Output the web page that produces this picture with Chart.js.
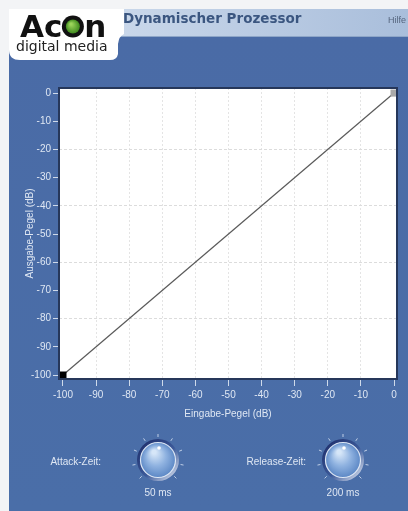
<!DOCTYPE html>
<html>
<head>
<meta charset="utf-8">
<script src="https://cdn.jsdelivr.net/npm/chart.js@4"></script>
<style>
  html, body { margin: 0; padding: 0; background: #f3f4f6; }
  #wrap { width: 408px; height: 511px; position: relative; }
</style>
</head>
<body>
<div id="wrap"><canvas id="c" width="408" height="511"></canvas></div>
<script>
// transfer curve (input dB -> output dB)
const inputLevels = [-100, 0];
const outputLevels = [-100, 0];
const xTicks = [-100, -90, -80, -70, -60, -50, -40, -30, -20, -10, 0];
const yTicks = [0, -10, -20, -30, -40, -50, -60, -70, -80, -90, -100];
const pointColors = ['#000000', '#a9a9a9'];

const labelColor = '#dfe7f3';
const font = 'Liberation Sans, Arial, sans-serif';

const knob = (ctx, cx, cy) => {
  // scale dots
  ctx.strokeStyle = 'rgba(220,230,245,0.8)';
  ctx.lineWidth = 1;
  for (let i = 0; i <= 8; i++) {
    const a = Math.PI * 0.75 + i * (Math.PI * 1.5 / 8);
    ctx.beginPath();
    ctx.moveTo(cx + Math.cos(a) * 23, cy + Math.sin(a) * 23);
    ctx.lineTo(cx + Math.cos(a) * 26, cy + Math.sin(a) * 26);
    ctx.stroke();
  }
  // dark ring
  ctx.beginPath();
  ctx.arc(cx, cy, 21, 0, Math.PI * 2);
  let g = ctx.createLinearGradient(cx - 20, cy - 20, cx + 20, cy + 20);
  g.addColorStop(0, '#1c2a66');
  g.addColorStop(0.55, '#3c5a9a');
  g.addColorStop(1, '#e8eef8');
  ctx.fillStyle = g;
  ctx.fill();
  // ball
  ctx.beginPath();
  ctx.arc(cx, cy, 17.5, 0, Math.PI * 2);
  g = ctx.createRadialGradient(cx - 4, cy - 8, 2, cx, cy, 18);
  g.addColorStop(0, '#d6e6f8');
  g.addColorStop(0.5, '#8fb2e0');
  g.addColorStop(1, '#5a86c4');
  ctx.fillStyle = g;
  ctx.fill();
  ctx.strokeStyle = '#dce6f4';
  ctx.lineWidth = 1.2;
  ctx.stroke();
  // indicator
  ctx.beginPath();
  ctx.arc(cx + 1, cy - 12, 1.8, 0, Math.PI * 2);
  ctx.fillStyle = '#ffffff';
  ctx.fill();
};

const panel = {
  id: 'panel',
  beforeDraw(chart) {
    const { ctx } = chart;
    ctx.save();
    ctx.fillStyle = '#f3f4f6';
    ctx.fillRect(0, 0, 408, 511);
    // blue panel
    let g = ctx.createLinearGradient(0, 37, 0, 511);
    g.addColorStop(0, '#4a6ba6');
    g.addColorStop(1, '#4a6ea8');
    ctx.fillStyle = g;
    ctx.fillRect(9, 37, 399, 474);
    // header band
    g = ctx.createLinearGradient(120, 0, 408, 0);
    g.addColorStop(0, '#c9d7ea');
    g.addColorStop(1, '#a9bedb');
    ctx.fillStyle = g;
    ctx.fillRect(9, 9, 399, 28);
    ctx.fillStyle = '#8ea6c8';
    ctx.fillRect(9, 36, 399, 1);
    // logo tab
    ctx.fillStyle = '#ffffff';
    ctx.beginPath();
    ctx.moveTo(9, 9);
    ctx.lineTo(124, 9);
    ctx.lineTo(124, 34);
    ctx.quadraticCurveTo(119, 36, 118, 44);
    ctx.lineTo(118, 54);
    ctx.quadraticCurveTo(117, 60, 110, 60);
    ctx.lineTo(20, 60);
    ctx.quadraticCurveTo(9, 60, 9, 50);
    ctx.closePath();
    ctx.fill();
    ctx.fillStyle = '#111111';
    ctx.font = 'bold 31px DejaVu Sans, ' + font;
    ctx.textBaseline = 'alphabetic';
    ctx.textAlign = 'left';
    ctx.fillText('Ac', 20, 37);
    const wAc = ctx.measureText('Ac').width;
    // green "o"
    const ox = 20 + wAc + 10.5;
    ctx.beginPath();
    ctx.arc(ox, 26.5, 11, 0, Math.PI * 2);
    ctx.fillStyle = '#111111';
    ctx.fill();
    ctx.beginPath();
    ctx.arc(ox, 26.5, 7, 0, Math.PI * 2);
    g = ctx.createRadialGradient(ox - 2, 24, 1, ox, 26.5, 7);
    g.addColorStop(0, '#9bd45a');
    g.addColorStop(1, '#3f8a1e');
    ctx.fillStyle = g;
    ctx.fill();
    ctx.fillStyle = '#111111';
    ctx.fillText('n', ox + 11.5, 37);
    ctx.font = '14px DejaVu Sans, ' + font;
    ctx.fillStyle = '#222222';
    ctx.fillText('digital media', 16, 51);
    // titles
    ctx.font = 'bold 13.5px DejaVu Sans, ' + font;
    ctx.fillStyle = '#3b5680';
    ctx.fillText('Dynamischer Prozessor', 123, 23);
    ctx.font = '9px ' + font;
    ctx.fillStyle = '#55657e';
    ctx.fillText('Hilfe', 388, 23);
    // plot background
    const a = chart.chartArea;
    ctx.fillStyle = '#ffffff';
    ctx.fillRect(a.left, a.top, a.right - a.left, a.bottom - a.top);
    ctx.restore();
  },
  afterDraw(chart) {
    const { ctx } = chart;
    const a = chart.chartArea;
    ctx.save();
    ctx.strokeStyle = '#26375a';
    ctx.lineWidth = 2;
    ctx.strokeRect(a.left, a.top, a.right - a.left, a.bottom - a.top);
    // knobs and labels
    ctx.fillStyle = labelColor;
    ctx.font = '10px ' + font;
    ctx.textBaseline = 'middle';
    ctx.textAlign = 'right';
    ctx.fillText('Attack-Zeit:', 101, 462);
    ctx.fillText('Release-Zeit:', 306, 462);
    ctx.textAlign = 'center';
    ctx.fillText('50 ms', 158, 493);
    ctx.fillText('200 ms', 343, 493);
    knob(ctx, 158, 460);
    knob(ctx, 343, 460);
    ctx.restore();
  }
};

new Chart(document.getElementById('c'), {
  type: 'scatter',
  data: {
    datasets: [{
      data: inputLevels.map((x, i) => ({ x, y: outputLevels[i] })),
      showLine: true,
      borderColor: '#5a5a5a',
      borderWidth: 1.2,
      pointStyle: 'rect',
      pointRadius: 5,
      pointBackgroundColor: pointColors,
      pointBorderColor: pointColors,
      pointBorderWidth: 0,
      clip: false
    }]
  },
  options: {
    responsive: false,
    animation: false,
    events: [],
    layout: { padding: { left: 20, right: 11, top: 88, bottom: 87 } },
    plugins: { legend: { display: false }, tooltip: { enabled: false } },
    scales: {
      x: {
        type: 'linear',
        min: -101.2,
        max: 0.9,
        afterBuildTicks: s => { s.ticks = xTicks.map(v => ({ value: v })); },
        afterFit: s => { s.height = 45; },
        border: { display: false, dash: [2, 2] },
        grid: {
          color: c => (c.tick && c.tick.value > -100 && c.tick.value < 0) ? '#e4e4e4' : 'rgba(0,0,0,0)',
          tickColor: '#cfdaea',
          tickLength: 7,
          lineWidth: 1,
          tickWidth: 1
        },
        ticks: { color: labelColor, font: { family: font, size: 10 }, padding: 3, maxRotation: 0, autoSkip: false },
        title: { display: true, text: 'Eingabe-Pegel (dB)', color: labelColor, font: { family: font, size: 10 }, padding: { top: 4, bottom: 4 } }
      },
      y: {
        type: 'linear',
        min: -101.4,
        max: 1.8,
        afterBuildTicks: s => { s.ticks = yTicks.map(v => ({ value: v })); },
        afterFit: s => { s.width = 39; },
        border: { display: false, dash: [3, 2] },
        grid: {
          color: c => (c.tick && c.tick.value % 20 === 0 && c.tick.value > -100 && c.tick.value < 0) ? '#dcdcdc' : 'rgba(0,0,0,0)',
          tickColor: '#cfdaea',
          tickLength: 6,
          lineWidth: 1,
          tickWidth: 1
        },
        ticks: { color: labelColor, font: { family: font, size: 10 }, padding: 2, autoSkip: false },
        title: { display: true, text: 'Ausgabe-Pegel (dB)', color: labelColor, font: { family: font, size: 10 }, padding: { top: 4, bottom: 4 } }
      }
    }
  },
  plugins: [panel]
});
</script>
</body>
</html>
